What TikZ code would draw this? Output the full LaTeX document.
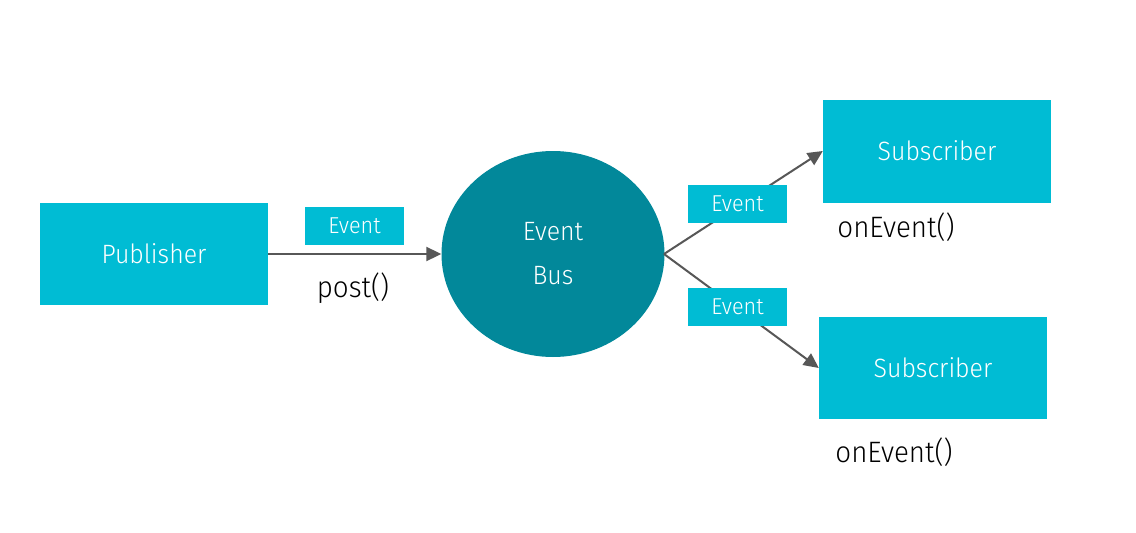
\documentclass[tikz,border=0pt]{standalone}
\usepackage{fontspec}
\setmainfont{Fira Sans}[UprightFont={* Light},FakeStretch=0.94]
\usetikzlibrary{arrows.meta,shapes.geometric}
\definecolor{cyanbox}{HTML}{00BCD4}
\definecolor{tealbus}{HTML}{02889A}
\definecolor{linegray}{HTML}{575757}
\tikzset{
  box/.style={fill=cyanbox, draw=none, text=white, inner sep=0pt, font=\fontsize{26.5}{30}\selectfont},
  evbox/.style={fill=cyanbox, draw=none, text=white, inner sep=0pt, minimum width=99pt, minimum height=38pt, font=\fontsize{23}{26}\selectfont},
  conn/.style={draw=linegray, line width=2pt, -{Triangle[length=15pt,width=14pt]}},
  lbl/.style={text=black, inner sep=0pt, font=\fontsize{29.5}{32}\selectfont}
}
\begin{document}
\begin{tikzpicture}[x=1pt,y=-1pt]
\useasboundingbox[fill=white] (0,0) rectangle (1136,533);
\node[box, minimum width=228pt, minimum height=102pt] (pub) at (154,254) {Publisher};
\node[fill=tealbus, ellipse, draw=none, minimum width=223pt, minimum height=206pt, inner sep=0pt, text=white, align=center, font=\fontsize{26.5}{44}\selectfont] (bus) at (553,254) {Event\\Bus};
\node[box, minimum width=228pt, minimum height=103pt] (sub1) at (937,151) {Subscriber};
\node[box, minimum width=228pt, minimum height=102pt] (sub2) at (933,368) {Subscriber};
\coordinate (busr) at (664,254);
\draw[conn] (pub.east) -- (bus.west);
\draw[conn] (busr) -- (sub1.west);
\draw[conn] (busr) -- (sub2.west);
\node[evbox] (ev0) at (354.5,226) {Event};
\node[evbox] (ev1) at (737.5,204) {Event};
\node[evbox] (ev2) at (737.5,307) {Event};
\node[lbl] (post) at (353,288) {post()};
\node[lbl] (on1) at (896,227) {onEvent()};
\node[lbl] (on2) at (894,452) {onEvent()};
\end{tikzpicture}
\end{document}
